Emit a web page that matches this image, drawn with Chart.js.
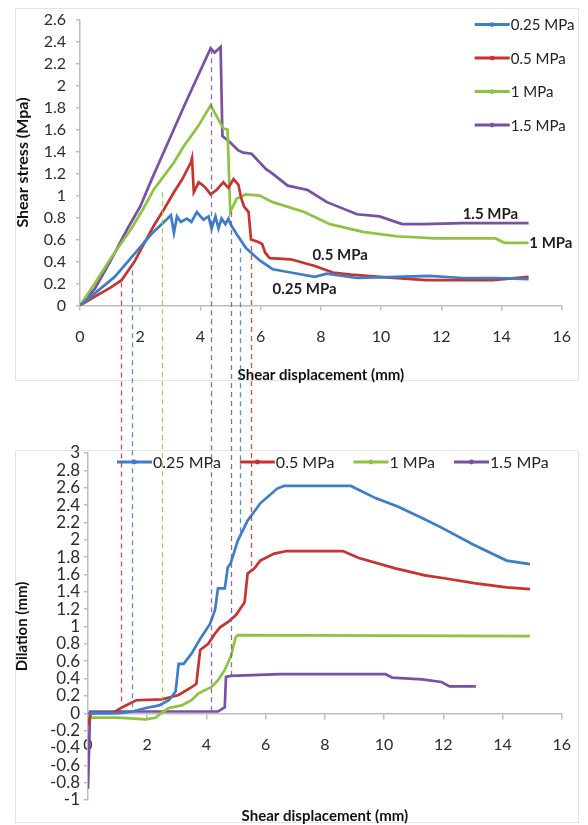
<!DOCTYPE html>
<html>
<head>
<meta charset="utf-8">
<script src="https://cdn.jsdelivr.net/npm/chart.js@4.4.1/dist/chart.umd.min.js"></script>
<style>
  html, body { margin: 0; padding: 0; background: #fff; }
  #page { position: relative; width: 588px; height: 825px; overflow: hidden; }
  .frame { position: absolute; border: 1px solid #e4e4e4; }
  canvas { position: absolute; left: 0; }
</style>
</head>
<body>
<div id="page">
  <div class="frame" style="left:15px;top:8px;width:562px;height:371px"></div>
  <div class="frame" style="left:15px;top:450px;width:562px;height:371px"></div>
  <canvas id="stressChart" style="top:0" width="588" height="395"></canvas>
  <canvas id="dilationChart" style="top:430px" width="588" height="395"></canvas>
  <canvas id="guides" style="top:0" width="588" height="825"></canvas>
</div>
<script>
const seriesNames = ['0.25 MPa', '0.5 MPa', '1 MPa', '1.5 MPa'];
const seriesColors = ['#3D7DCA', '#C8332F', '#8CC43F', '#7A50A3'];

const dispTicks = [0, 2, 4, 6, 8, 10, 12, 14, 16];
const stressTicks = [0, 0.2, 0.4, 0.6, 0.8, 1, 1.2, 1.4, 1.6, 1.8, 2, 2.2, 2.4, 2.6];
const dilationTicks = [-1, -0.8, -0.6, -0.4, -0.2, 0, 0.2, 0.4, 0.6, 0.8, 1, 1.2, 1.4, 1.6, 1.8, 2, 2.2, 2.4, 2.6, 2.8, 3];

// shear stress vs shear displacement
const stressX025 = [0, 0.49, 1.15, 1.81, 2.37, 2.79, 3.02, 3.12, 3.22, 3.35, 3.55, 3.7, 3.88, 4.1, 4.27, 4.37, 4.5, 4.6, 4.7, 4.83, 4.93, 5.0, 5.2, 5.52, 5.97, 6.4, 7.0, 7.8, 8.2, 9.2, 10.5, 11.6, 12.7, 13.8, 14.9];
const stressY025 = [0, 0.11, 0.26, 0.47, 0.65, 0.76, 0.82, 0.66, 0.81, 0.76, 0.79, 0.76, 0.85, 0.78, 0.81, 0.70, 0.81, 0.70, 0.79, 0.74, 0.79, 0.74, 0.65, 0.52, 0.41, 0.33, 0.30, 0.26, 0.29, 0.25, 0.26, 0.27, 0.25, 0.25, 0.24];
const stressX05 = [0, 0.49, 1.0, 1.38, 1.81, 2.1, 2.46, 2.8, 3.12, 3.4, 3.68, 3.72, 3.78, 3.94, 4.05, 4.17, 4.34, 4.53, 4.76, 4.93, 5.1, 5.26, 5.35, 5.45, 5.6, 5.68, 5.9, 6.05, 6.15, 6.3, 7.0, 7.8, 8.4, 9.0, 9.95, 11.5, 12.6, 13.7, 14.9];
const stressY05 = [0, 0.08, 0.16, 0.23, 0.40, 0.55, 0.73, 0.88, 1.03, 1.15, 1.30, 1.34, 1.03, 1.12, 1.10, 1.07, 1.01, 1.05, 1.12, 1.07, 1.15, 1.10, 0.98, 0.90, 0.85, 0.60, 0.58, 0.56, 0.48, 0.43, 0.42, 0.36, 0.30, 0.28, 0.26, 0.23, 0.23, 0.23, 0.26];
const stressX1 = [0, 0.49, 1.0, 1.71, 2.1, 2.46, 2.63, 3.12, 3.45, 3.9, 4.34, 4.76, 4.9, 4.99, 5.2, 5.5, 5.97, 6.4, 7.45, 8.3, 9.4, 10.5, 11.8, 13.8, 14.1, 14.9];
const stressY1 = [0, 0.20, 0.42, 0.70, 0.88, 1.06, 1.12, 1.30, 1.45, 1.62, 1.82, 1.61, 1.60, 0.85, 0.97, 1.01, 1.00, 0.94, 0.85, 0.74, 0.67, 0.63, 0.61, 0.61, 0.57, 0.57];
const stressX15 = [0, 0.49, 1.0, 1.58, 2.0, 2.37, 2.79, 3.5, 4.34, 4.47, 4.67, 4.73, 5.0, 5.26, 5.42, 5.7, 6.18, 6.34, 6.9, 7.56, 8.2, 9.2, 9.95, 10.7, 11.4, 12.7, 14.9];
const stressY15 = [0, 0.15, 0.40, 0.70, 0.90, 1.14, 1.40, 1.84, 2.34, 2.30, 2.35, 1.54, 1.48, 1.41, 1.39, 1.38, 1.24, 1.21, 1.09, 1.05, 0.94, 0.83, 0.81, 0.74, 0.74, 0.75, 0.75];

// dilation vs shear displacement
const dilX025 = [0, 0.1, 1.06, 1.5, 1.96, 2.4, 2.73, 2.96, 3.06, 3.23, 3.5, 3.83, 4.12, 4.29, 4.39, 4.62, 4.72, 4.82, 5.06, 5.39, 5.82, 6.39, 6.62, 8.88, 9.71, 10.48, 11.28, 11.94, 13.04, 14.14, 14.93];
const dilY025 = [0, 0, 0, 0.02, 0.06, 0.09, 0.15, 0.25, 0.57, 0.57, 0.69, 0.88, 1.03, 1.19, 1.44, 1.44, 1.68, 1.73, 1.99, 2.22, 2.42, 2.59, 2.62, 2.62, 2.48, 2.38, 2.25, 2.14, 1.94, 1.76, 1.72];
const dilX05 = [0, 0.1, 0.83, 1.16, 1.63, 2.5, 3.06, 3.5, 3.66, 3.79, 4.06, 4.29, 4.46, 4.72, 4.99, 5.29, 5.39, 5.62, 5.82, 6.29, 6.72, 8.61, 9.15, 10.38, 11.38, 12.14, 13.04, 14.14, 14.93];
const dilY05 = [-0.14, 0, 0, 0.07, 0.15, 0.16, 0.21, 0.30, 0.34, 0.73, 0.80, 0.92, 0.99, 1.05, 1.13, 1.28, 1.61, 1.67, 1.76, 1.84, 1.87, 1.87, 1.79, 1.67, 1.59, 1.55, 1.50, 1.45, 1.43];
const dilX1 = [0, 0.1, 1.0, 1.4, 1.96, 2.3, 2.46, 2.73, 3.16, 3.5, 3.73, 4.16, 4.39, 4.62, 4.82, 4.99, 5.06, 14.93];
const dilY1 = [-0.05, -0.05, -0.05, -0.06, -0.07, -0.05, 0, 0.06, 0.09, 0.15, 0.23, 0.30, 0.38, 0.50, 0.65, 0.88, 0.90, 0.89];
const dilX15 = [0, 0.07, 4.39, 4.62, 4.66, 4.82, 6.5, 10.05, 10.28, 11.28, 11.94, 12.21, 13.1];
const dilY15 = [-0.87, 0.02, 0.02, 0.07, 0.42, 0.43, 0.45, 0.45, 0.41, 0.39, 0.36, 0.31, 0.31];

// dashed guides: displacement on the stress chart, start stress, end dilation
const guideSeries = [1, 0, 2, 3, 3, 0, 1];
const guideDisp = [1.37, 1.72, 2.71, 4.35, 5.02, 5.33, 5.67];
const guideStress = [0.21, 0.32, 1.03, 2.33, 0.85, 0.52, 0.54];
const guideDilation = [0.12, 0.01, 0.07, 0.03, 0.41, 2.09, 1.68];

// curve tags on the stress chart
const tagText = ['1.5 MPa', '1 MPa', '0.5 MPa', '0.25 MPa'];
const tagX = [13.63, 15.64, 8.64, 7.46];
const tagY = [0.83, 0.57, 0.46, 0.15];

const FONT = 'Lato, "Open Sans", sans-serif';
const axisColor = '#bdbdbd';
const tickColor = '#2c2c2c';

function pts(xs, ys) {
  return xs.map((x, i) => ({ x: x, y: ys[i] }));
}

function makeSets(pairs) {
  return pairs.map((p, i) => ({
    label: seriesNames[i],
    data: pts(p[0], p[1]),
    borderColor: seriesColors[i],
    backgroundColor: seriesColors[i],
    borderWidth: 2.7,
    pointRadius: 0,
    tension: 0,
    fill: false
  }));
}

function setTicks(list) {
  return axis => { axis.ticks = list.map(v => ({ value: v })); };
}

function drawKeyItem(ctx, i, x, y) {
  ctx.save();
  ctx.strokeStyle = seriesColors[i];
  ctx.lineWidth = 3;
  ctx.beginPath();
  ctx.moveTo(x, y);
  ctx.lineTo(x + 35, y);
  ctx.stroke();
  ctx.fillStyle = seriesColors[i];
  ctx.beginPath();
  ctx.arc(x + 17.5, y, 2.4, 0, Math.PI * 2);
  ctx.fill();
  ctx.fillStyle = '#222';
  ctx.textAlign = 'left';
  ctx.textBaseline = 'middle';
  ctx.fillText(seriesNames[i], x + 36, y + 1);
  const w = ctx.measureText(seriesNames[i]).width;
  ctx.restore();
  return 36 + w;
}

// vertical key in the top right corner
const columnKey = {
  id: 'columnKey',
  afterDraw(chart) {
    const ctx = chart.ctx;
    const a = chart.chartArea;
    ctx.font = '15px ' + FONT;
    seriesNames.forEach((n, i) => drawKeyItem(ctx, i, a.right - 87, a.top + 5 + i * 33.5));
  }
};

// horizontal key along the top of the plot
const rowKey = {
  id: 'rowKey',
  afterDraw(chart) {
    const ctx = chart.ctx;
    const a = chart.chartArea;
    ctx.font = '16px ' + FONT;
    let x = a.left + 29;
    seriesNames.forEach((n, i) => {
      x += drawKeyItem(ctx, i, x, a.top + 9) + 19;
    });
  }
};

const curveTags = {
  id: 'curveTags',
  afterDatasetsDraw(chart) {
    const ctx = chart.ctx;
    const sx = chart.scales.x, sy = chart.scales.y;
    ctx.save();
    ctx.font = 'bold 15px ' + FONT;
    ctx.fillStyle = '#1e1e1e';
    ctx.textAlign = 'center';
    ctx.textBaseline = 'middle';
    tagText.forEach((t, i) => ctx.fillText(t, sx.getPixelForValue(tagX[i]), sy.getPixelForValue(tagY[i])));
    ctx.restore();
  }
};

function xAxis(extra) {
  return Object.assign({
    type: 'linear',
    min: 0,
    max: 16,
    afterBuildTicks: setTicks(dispTicks),
    grid: { display: true, drawOnChartArea: false, drawTicks: true, tickLength: 5, color: axisColor, lineWidth: 1.5 },
    border: { color: axisColor, width: 1.5 },
    ticks: { padding: 17, color: tickColor, maxRotation: 0, autoSkip: false, font: { family: FONT, size: 16 }, callback: v => String(v) }
  }, extra);
}

function yAxis(ticks, min, max, width, size, pad, title, titleSize) {
  return {
    type: 'linear',
    min: min,
    max: max,
    afterBuildTicks: setTicks(ticks),
    afterFit: s => { s.width = width; },
    grid: { display: true, drawOnChartArea: false, drawTicks: true, tickLength: 4, color: axisColor, lineWidth: 1.5 },
    border: { color: axisColor, width: 1.5 },
    ticks: { padding: pad, color: tickColor, autoSkip: false, font: { family: FONT, size: size }, callback: v => String(v) },
    title: { display: true, text: title, color: '#111', font: { family: FONT, size: titleSize, weight: 'bold' }, padding: { top: 13, bottom: 0 } }
  };
}

const common = {
  responsive: false,
  animation: false,
  devicePixelRatio: 1,
  plugins: { legend: { display: false }, tooltip: { enabled: false } }
};

const stressChart = new Chart(document.getElementById('stressChart'), {
  type: 'line',
  data: { datasets: makeSets([[stressX025, stressY025], [stressX05, stressY05], [stressX1, stressY1], [stressX15, stressY15]]) },
  options: Object.assign({}, common, {
    layout: { padding: { left: 0, top: 15, right: 21, bottom: 0 } },
    scales: {
      x: xAxis({
        afterFit: s => { s.height = 89.5; },
        title: { display: true, text: 'Shear displacement (mm)', color: '#111', font: { family: FONT, size: 15, weight: 'bold' }, padding: { top: 0, bottom: 11 } }
      }),
      y: yAxis(stressTicks, 0, 2.6, 80, 16, 10, 'Shear stress (Mpa)', 16)
    }
  }),
  plugins: [columnKey, curveTags]
});

const dilationChart = new Chart(document.getElementById('dilationChart'), {
  type: 'line',
  data: { datasets: makeSets([[dilX025, dilY025], [dilX05, dilY05], [dilX1, dilY1], [dilX15, dilY15]]) },
  options: Object.assign({}, common, {
    layout: { padding: { left: 0, top: 23, right: 19, bottom: 0 } },
    scales: {
      x: xAxis({ position: { y: 0 } }),
      xTitle: {
        axis: 'x',
        type: 'linear',
        position: 'bottom',
        min: 0,
        max: 16,
        afterFit: s => { s.height = 25; },
        grid: { display: false },
        border: { display: false },
        ticks: { display: false },
        title: { display: true, text: 'Shear displacement (mm)', color: '#111', font: { family: FONT, size: 15, weight: 'bold' }, padding: { top: 0, bottom: 0 } }
      },
      y: yAxis(dilationTicks, -1, 3, 88, 17, 4, 'Dilation (mm)', 15)
    }
  }),
  plugins: [rowKey]
});

// dashed guides running from the stress curves down into the dilation plot
(function drawGuides() {
  const canvas = document.getElementById('guides');
  const ctx = canvas.getContext('2d');
  const topOffset = stressChart.canvas.offsetTop;
  const lowOffset = dilationChart.canvas.offsetTop;
  ctx.lineWidth = 1.3;
  ctx.setLineDash([5, 4]);
  guideDisp.forEach((d, i) => {
    const x = Math.round(stressChart.scales.x.getPixelForValue(d)) + 0.5;
    const y1 = topOffset + stressChart.scales.y.getPixelForValue(guideStress[i]);
    const y2 = lowOffset + dilationChart.scales.y.getPixelForValue(guideDilation[i]);
    ctx.strokeStyle = seriesColors[guideSeries[i]];
    ctx.globalAlpha = 0.85;
    ctx.beginPath();
    ctx.moveTo(x, y1);
    ctx.lineTo(x, y2);
    ctx.stroke();
  });
})();
</script>
</body>
</html>
